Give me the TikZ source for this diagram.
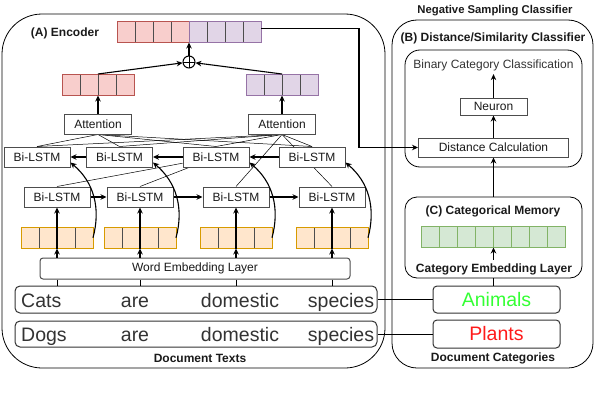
\documentclass[tikz,border=0pt]{standalone}
\usepackage{fontspec}
\setmainfont{Liberation Sans}
\usepackage{xcolor}
\usepackage{tikz}
\usetikzlibrary{arrows.meta,backgrounds}
\definecolor{redfill}{HTML}{F8CECC}
\definecolor{reddraw}{HTML}{B85450}
\definecolor{purplefill}{HTML}{E1D5E7}
\definecolor{purpledraw}{HTML}{9673A6}
\definecolor{orangefill}{HTML}{FFE6CC}
\definecolor{orangedraw}{HTML}{D79B00}
\definecolor{greenfill}{HTML}{D5E8D4}
\definecolor{greendraw}{HTML}{82B366}
\definecolor{divider}{HTML}{4D4D4D}
\definecolor{boxdraw}{HTML}{4D4D4D}
\definecolor{textcolor}{HTML}{1A1A1A}
\definecolor{wordcolor}{HTML}{333333}
\definecolor{animalgreen}{HTML}{33FF33}
\definecolor{plantred}{HTML}{FF1A1A}
\tikzset{
  >={Stealth[length=6pt,width=5.5pt]},
  group frame/.style={
    draw=black,
    line width=0.8pt,
    inner sep=0pt
  },
  layer box/.style={
    draw=boxdraw,
    fill=white,
    line width=1pt,
    minimum width=66pt,
    minimum height=20pt,
    inner sep=0pt,
    font=\fontsize{12}{14}\selectfont,
    text=textcolor
  },
  sentence box/.style={
    draw=black!80,
    line width=1pt,
    rounded corners=5pt,
    minimum width=362pt,
    inner sep=0pt
  },
  label box/.style={
    draw=black!80,
    line width=1pt,
    rounded corners=4pt,
    minimum width=127pt,
    inner sep=0pt,
    font=\fontsize{19.5}{22}\selectfont
  },
  sentence word/.style={
    inner sep=0pt,
    font=\fontsize{19.5}{22}\selectfont,
    text=wordcolor
  },
  frame title/.style={
    font=\bfseries\fontsize{12}{14}\selectfont,
    text=textcolor
  },
  plain text/.style={
    font=\fontsize{12}{14}\selectfont,
    text=wordcolor
  },
  vector cell/.style={
    minimum width=18pt,
    minimum height=21.5pt,
    inner sep=0pt,
    outer sep=0pt,
    line width=0.8pt
  },
  flow arrow/.style={
    ->,
    line width=1.1pt
  },
  plain link/.style={
    line width=1pt
  },
  attention link/.style={
    line width=0.5pt
  },
  oplus/.style={
    circle,
    draw,
    line width=1pt,
    minimum size=12pt,
    inner sep=0pt,
    path picture={
      \draw[line width=1pt] (path picture bounding box.north) -- (path picture bounding box.south)
        (path picture bounding box.west) -- (path picture bounding box.east);
    }
  }
}
\newcommand{\cellrow}[7]{%
  \foreach \k in {1,...,#4}{
    \node[vector cell, fill=#5, draw=#7] (#1-\k) at ({#2+(\k-0.5)*18}, {#3+10.75}) {};
  }
  \draw[draw=#6, line width=0.8pt] (#1-1.north west) rectangle (#1-#4.south east);
}

\begin{document}
\begin{tikzpicture}[x=1pt,y=-1pt]
  \useasboundingbox (0,0) rectangle (596,404);

  \node[group frame, rounded corners=40pt, minimum width=383pt, minimum height=354pt] (encoder) at (193.5,191) {};
  \node[group frame, rounded corners=25pt, minimum width=201pt, minimum height=348pt] (classifier) at (492.5,194) {};
  \node[group frame, rounded corners=15pt, minimum width=177pt, minimum height=117pt] (decision) at (493.5,108.5) {};
  \node[group frame, rounded corners=12pt, minimum width=177pt, minimum height=81pt] (memory) at (493.5,237.5) {};

  \node[frame title, font=\bfseries\fontsize{11.3}{13}\selectfont] (negtitle) at (495,11) {Negative Sampling Classifier};
  \node[frame title] (btitle) at (493,38) {(B) Distance/Similarity Classifier};
  \node[frame title] (atitle) at (65,33) {(A) Encoder};
  \node[frame title] (ctitle) at (493,211) {(C) Categorical Memory};
  \node[frame title] (embtitle) at (494,269) {Category Embedding Layer};
  \node[frame title] (cattitle) at (493,358) {Document Categories};
  \node[frame title] (doctitle) at (200,358) {Document Texts};

  \node[plain text] (binarytext) at (493.5,65) {Binary Category Classification};
  \node[layer box, minimum width=67pt, minimum height=17pt] (neuron) at (493.5,106.5) {Neuron};
  \node[layer box, minimum width=150pt, minimum height=19pt] (dist) at (493.5,147.5) {Distance Calculation};
  \draw[flow arrow] (dist) -- (neuron);
  \draw[flow arrow] (neuron) -- (binarytext);

  \cellrow{G}{421.5}{226}{8}{greenfill}{greendraw}{greendraw}
  \draw[flow arrow] (G-4.south east |- embtitle.north) -- (G-4.south east);
  \draw[flow arrow] (memory.north) -- (dist.south);

  \node[label box, minimum height=27pt, text=animalgreen] (animals) at (496.5,299.5) {Animals};
  \node[label box, minimum height=28pt, text=plantred] (plants) at (496.5,334) {Plants};
  \draw[plain link] (memory.south |- animals.north) -- (memory.south);

  \cellrow{C}{117}{21}{4}{redfill}{reddraw}{divider}
  \cellrow{D}{189}{21}{4}{purplefill}{purpledraw}{divider}
  \node[oplus] (plus) at (189,62) {};
  \cellrow{R}{62}{74}{4}{redfill}{reddraw}{divider}
  \cellrow{P}{246}{74}{4}{purplefill}{purpledraw}{divider}
  \node[layer box, minimum width=67pt] (attL) at (98,124) {Attention};
  \node[layer box, minimum width=67pt] (attR) at (282,124) {Attention};
  \draw[flow arrow] (attL.north) -- (R-2.south east);
  \draw[flow arrow] (attR.north) -- (P-2.south east);
  \draw[flow arrow] (R-2.north east) -- (plus);
  \draw[flow arrow] (P-2.north east) -- (plus);
  \draw[flow arrow] (plus) -- (C-4.south east);

  \coordinate (turn) at (359,90);
  \draw[flow arrow] ([yshift=3pt]D-4.east) -| (turn) |- (dist.west);

  \foreach \i/\x in {1/37,2/119.5,3/216,4/312}{
    \node[layer box] (T-\i) at (\x,157) {Bi-LSTM};
  }
  \foreach \i/\x in {1/57,2/140,3/236,4/332}{
    \node[layer box] (B-\i) at (\x,197) {Bi-LSTM};
  }
  \foreach \i/\x in {1/21,2/104,3/200,4/296}{
    \cellrow{E\i}{\x}{227}{4}{orangefill}{orangedraw}{divider}
  }

  \node[layer box, rounded corners=3pt, minimum width=310pt, minimum height=21pt] (emb) at (195,268.5) {Word Embedding Layer};
  \node[sentence box, minimum height=27pt] (catsline) at (196,299.5) {};
  \node[sentence box, minimum height=26pt] (dogsline) at (196,334) {};

  \node[sentence word, anchor=base west] (cats-1) at (21,307) {Cats};
  \node[sentence word, anchor=base] (cats-2) at (135,307) {are};
  \node[sentence word, anchor=base] (cats-3) at (240,307) {domestic};
  \node[sentence word, anchor=base] (cats-4) at (341,307) {species};
  \node[sentence word, anchor=base west] (dogs-1) at (21,341) {Dogs};
  \node[sentence word, anchor=base] (dogs-2) at (135,341) {are};
  \node[sentence word, anchor=base] (dogs-3) at (240,341) {domestic};
  \node[sentence word, anchor=base] (dogs-4) at (341,341) {species};

  \draw[plain link] (catsline.east) -- (animals.west);
  \draw[plain link] (dogsline.east) -- (plants.west);

  \foreach \i in {1,...,4}{
    \draw[plain link] (emb.south -| E\i-2.south east) -- (catsline.north -| E\i-2.south east);
    \draw[flow arrow] (emb.north -| E\i-2.south east) -- (E\i-2.south east);
    \draw[flow arrow] (E\i-2.south east) -- (B-\i.south);
    \draw[flow arrow] (E\i-4.east) to[out=75,in=-40] ([yshift=5pt]T-\i.south east);
  }
  \draw[flow arrow] (T-2) -- (T-1);
  \draw[flow arrow] (T-3) -- (T-2);
  \draw[flow arrow] (T-4) -- (T-3);
  \draw[flow arrow] (B-1) -- (B-2);
  \draw[flow arrow] (B-2) -- (B-3);
  \draw[flow arrow] (B-3) -- (B-4);

  \begin{scope}[on background layer]
    \foreach \i in {1,...,4}{
      \draw[attention link] (attL.south) -- (T-\i.north);
      \draw[attention link] (attR.south) -- (T-\i.north);
    }
    \draw[attention link] (B-1.north) -- (T-3);
    \draw[attention link] (B-2.north) -- (T-3);
    \draw[attention link] (B-3.north) -- (attR.south);
    \draw[attention link] (B-4.north) -- (attR.south);
  \end{scope}
\end{tikzpicture}
\end{document}
